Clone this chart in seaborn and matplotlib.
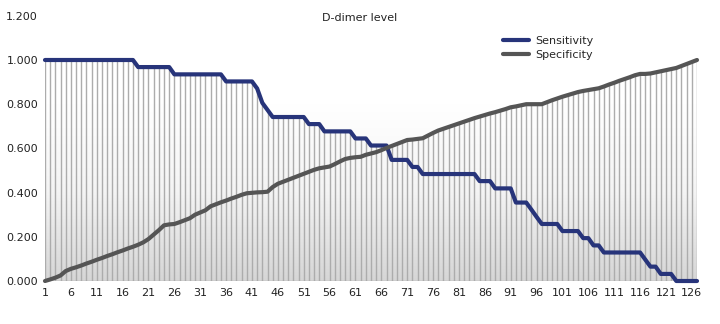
import numpy as np
import pandas as pd
import matplotlib
matplotlib.use("Agg")
import matplotlib.pyplot as plt
import seaborn as sns
from matplotlib.colors import LinearSegmentedColormap

# cut-off index along the x axis
cutoffs = list(range(1, 128))

sensitivity = [
    1.000, 1.000, 1.000, 1.000, 1.000, 1.000, 1.000, 1.000, 1.000, 1.000,  # 1-10
    1.000, 1.000, 1.000, 1.000, 1.000, 1.000, 1.000, 1.000, 0.968, 0.968,  # 11-20
    0.968, 0.968, 0.968, 0.968, 0.968, 0.935, 0.935, 0.935, 0.935, 0.935,  # 21-30
    0.935, 0.935, 0.935, 0.935, 0.935, 0.903, 0.903, 0.903, 0.903, 0.903,  # 31-40
    0.903, 0.871, 0.806, 0.774, 0.742, 0.742, 0.742, 0.742, 0.742, 0.742,  # 41-50
    0.742, 0.710, 0.710, 0.710, 0.677, 0.677, 0.677, 0.677, 0.677, 0.677,  # 51-60
    0.645, 0.645, 0.645, 0.613, 0.613, 0.613, 0.613, 0.548, 0.548, 0.548,  # 61-70
    0.548, 0.516, 0.516, 0.484, 0.484, 0.484, 0.484, 0.484, 0.484, 0.484,  # 71-80
    0.484, 0.484, 0.484, 0.484, 0.452, 0.452, 0.452, 0.419, 0.419, 0.419,  # 81-90
    0.419, 0.355, 0.355, 0.355, 0.323, 0.290, 0.258, 0.258, 0.258, 0.258,  # 91-100
    0.226, 0.226, 0.226, 0.226, 0.194, 0.194, 0.161, 0.161, 0.129, 0.129,  # 101-110
    0.129, 0.129, 0.129, 0.129, 0.129, 0.129, 0.097, 0.065, 0.065, 0.032,  # 111-120
    0.032, 0.032, 0.000, 0.000, 0.000, 0.000, 0.000,                       # 121-127
]

specificity = [
    0.000, 0.007, 0.015, 0.025, 0.045, 0.055, 0.062, 0.070, 0.079, 0.087,  # 1-10
    0.096, 0.104, 0.113, 0.121, 0.130, 0.138, 0.147, 0.155, 0.164, 0.175,  # 11-20
    0.190, 0.210, 0.230, 0.252, 0.256, 0.258, 0.266, 0.275, 0.284, 0.300,  # 21-30
    0.310, 0.320, 0.338, 0.347, 0.356, 0.364, 0.373, 0.381, 0.390, 0.397,  # 31-40
    0.399, 0.401, 0.402, 0.404, 0.425, 0.440, 0.449, 0.458, 0.467, 0.476,  # 41-50
    0.485, 0.494, 0.503, 0.510, 0.514, 0.518, 0.529, 0.541, 0.552, 0.557,  # 51-60
    0.560, 0.562, 0.571, 0.577, 0.583, 0.592, 0.602, 0.611, 0.620, 0.629,  # 61-70
    0.638, 0.640, 0.643, 0.646, 0.658, 0.670, 0.681, 0.689, 0.697, 0.705,  # 71-80
    0.713, 0.721, 0.729, 0.737, 0.744, 0.751, 0.758, 0.764, 0.771, 0.778,  # 81-90
    0.786, 0.790, 0.795, 0.800, 0.800, 0.800, 0.800, 0.809, 0.818, 0.826,  # 91-100
    0.834, 0.841, 0.848, 0.855, 0.860, 0.864, 0.868, 0.872, 0.880, 0.889,  # 101-110
    0.897, 0.906, 0.914, 0.922, 0.931, 0.937, 0.937, 0.939, 0.944, 0.949,  # 111-120
    0.954, 0.959, 0.964, 0.973, 0.982, 0.991, 1.000,                       # 121-127
]

xticks = list(range(1, 128, 5))
yticks = [0.0, 0.2, 0.4, 0.6, 0.8, 1.0, 1.2]

df = pd.DataFrame({"Cutoff": cutoffs, "Sensitivity": sensitivity, "Specificity": specificity})
long_df = df.melt(id_vars="Cutoff", var_name="Measure", value_name="Value")

sns.set_theme(style="white")
plt.rcParams["font.family"] = ["Liberation Sans Narrow", "DejaVu Sans"]

fig = plt.figure(figsize=(7.2, 3.24), dpi=100)
ax = fig.add_axes([45 / 720, 1 - 281 / 324, (697 - 45) / 720, (281 - 15.8) / 324])

# soft vertical gradient in the plot area
grad = np.linspace(0, 1, 256).reshape(-1, 1)
bg_cmap = LinearSegmentedColormap.from_list("bg", ["#d6d6d6", "#f4f4f4", "#ffffff", "#ffffff"])
ax.imshow(grad, extent=[1, 127, 0, 1.2], origin="lower", cmap=bg_cmap, aspect="auto", zorder=0)

# drop lines up to the higher curve
top = df[["Sensitivity", "Specificity"]].max(axis=1)
ax.vlines(df["Cutoff"], 0, top, color="#acacac", linewidth=1.0, zorder=1)
ax.axhline(0, color="#a9a9a9", linewidth=1.0, zorder=1)

sns.lineplot(data=long_df, x="Cutoff", y="Value", hue="Measure",
             palette={"Sensitivity": "#27347a", "Specificity": "#555555"},
             linewidth=3.0, ax=ax, zorder=3, clip_on=False)
for ln in ax.lines:
    ln.set_solid_joinstyle("round")
    ln.set_solid_capstyle("round")

ax.set_xlim(1, 127)
ax.set_ylim(0, 1.2)
ax.set_xticks(xticks)
ax.set_yticks(yticks)
ax.set_yticklabels([f"{v:.3f}" for v in yticks])
ax.tick_params(axis="both", labelsize=8, length=0, colors="#222222", pad=5)
ax.set_xlabel("")
ax.set_ylabel("")
for s in ax.spines.values():
    s.set_visible(False)

fig.text(0.5, 1 - 18 / 324, "D-dimer level", ha="center", va="center", fontsize=8, color="#222222")

leg = ax.legend(loc="upper left", bbox_to_anchor=(0.702, 0.925), frameon=False, fontsize=8,
                handlelength=2.4, handletextpad=0.5, labelspacing=0.35, borderaxespad=0,
                borderpad=0)
for h in leg.get_lines():
    h.set_linewidth(3.0)

fig.savefig("out.png", dpi=100)
